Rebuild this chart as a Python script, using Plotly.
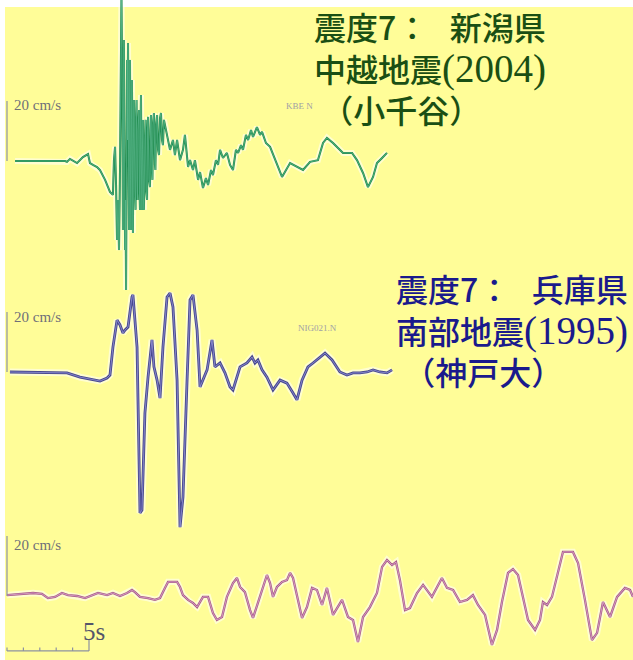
import plotly.graph_objects as go

# Velocity records: time in seconds, ground velocity in cm/s
ojiya_t = [0.49, 3.54, 3.66, 3.84, 4.27, 4.63, 4.94, 5.06, 5.24, 5.49, 5.67, 5.98, 6.28, 6.46,
           6.52, 6.59, 6.65, 6.71, 6.77, 6.83, 6.89, 6.95, 6.98, 7.04, 7.07, 7.10, 7.13, 7.16,
           7.20, 7.23, 7.26, 7.29, 7.32, 7.35, 7.38, 7.41, 7.44, 7.47, 7.50, 7.53, 7.56, 7.59,
           7.62, 7.65, 7.68, 7.71, 7.74, 7.80, 7.84, 7.87, 7.90, 7.93, 7.96, 7.99, 8.05, 8.08,
           8.11, 8.14, 8.17, 8.20, 8.23, 8.26, 8.29, 8.32, 8.35, 8.41, 8.45, 8.48, 8.54, 8.57,
           8.60, 8.66, 8.72, 8.75, 8.78, 8.84, 8.87, 8.90, 8.96, 9.02, 9.05, 9.09, 9.15, 9.21,
           9.27, 9.33, 9.39, 9.45, 9.51, 9.57, 9.63, 9.76, 9.94, 10.12, 10.24, 10.37, 10.55,
           10.73, 10.85, 11.04, 11.16, 11.34, 11.46, 11.65, 11.77, 11.95, 12.13, 12.26, 12.44,
           12.56, 12.74, 12.87, 12.99, 13.17, 13.41, 13.60, 13.78, 13.96, 14.09, 14.27, 14.39,
           14.57, 14.70, 14.88, 15.00, 15.24, 15.43, 15.55, 15.79, 16.04, 16.46, 16.77, 17.26,
           17.68, 18.05, 18.48, 18.96, 19.27, 19.51, 19.88, 20.49, 21.04, 21.34, 21.71, 22.01,
           22.32, 22.56, 22.87, 23.17]
ojiya_v = [0.0, 0.0, -0.3, 0.7, -0.7, 1.3, 2.3, -0.7, -1.3, -2.0, -3.0, -6.3, -10.3, -11.3,
           0.3, 4.7, -8.0, -26.3, -13.0, -29.7, -3.0, 33.7, 55.3, 13.7, -23.0, 3.7, 40.3, 10.3,
           -29.7, -13.0, -43.0, -6.3, 33.7, 7.0, 39.3, 3.7, -23.0, 20.3, 33.7, -6.3, -23.0, 13.7,
           27.0, -3.0, -24.0, 7.0, 20.3, -9.7, -16.3, 13.7, 20.3, -6.3, -13.0, 10.3, 17.0, -9.7,
           -16.3, 10.3, 22.0, -3.0, -16.3, 3.7, 13.7, -13.0, -16.3, 7.0, 13.7, -9.7, -13.0, 10.3,
           14.7, -6.3, -8.7, 10.3, 15.3, -3.0, -6.3, 12.0, 16.0, -1.3, -3.0, 12.0, 15.3, 3.7,
           2.0, 14.3, 16.0, 7.0, 5.3, 13.7, 12.0, 9.3, 3.7, 7.0, 2.0, 7.0, 0.3,
           3.7, 8.7, -2.0, 0.3, -3.0, 0.3, -6.3, -3.7, -9.0, -5.7, -8.0, -3.0,
           -4.7, 0.3, -1.3, 3.7, 1.0, 2.7, -1.3, -3.0, 3.7, 2.7, 5.3, 3.7,
           8.7, 7.0, 10.3, 8.0, 11.3, 8.7, 9.7, 6.0, 4.7, -0.7, -5.3, -0.7,
           -2.0, -3.0, -0.3, 0.3, 6.0, 7.7, 6.0, 2.7, 2.7, 0.3, -4.0, -8.7,
           -5.3, -0.7, 1.0, 2.7]

kobe_t = [0.18, 3.66, 4.45, 5.24, 5.67, 6.10, 6.28, 6.46, 6.71, 6.89, 7.07, 7.20, 7.38, 7.62,
          7.68, 7.93, 8.11, 8.23, 8.41, 8.60, 8.84, 8.96, 9.15, 9.33, 9.51, 9.76, 9.94, 10.12,
          10.37, 10.55, 10.73, 10.98, 11.16, 11.34, 11.59, 11.77, 11.95, 12.20, 12.50, 12.68,
          12.99, 13.29, 13.60, 13.78, 14.21, 14.63, 14.94, 15.12, 15.30, 15.55, 15.85, 16.22,
          16.65, 17.07, 17.44, 17.68, 17.99, 18.35, 18.66, 19.09, 19.39, 19.82, 20.30, 20.73,
          21.10, 21.52, 21.95, 22.32, 22.74, 23.17, 23.48]
kobe_v = [0.0, -0.3, -1.7, -2.7, -3.0, -2.0, -1.0, 8.3, 17.3, 15.7, 13.0, 14.0, 15.0, 25.0,
          25.7, 8.3, -47.0, -46.0, -13.7, -1.7, 10.7, 1.7, -2.7, -8.7, 8.3, 25.0, 26.3, 21.7,
          -2.7, -51.7, -41.7, -2.7, 24.0, 25.7, 14.0, -5.0, -2.7, 0.7, 10.7, 1.7,
          3.0, -0.3, -5.0, -6.0, 1.7, 3.0, 5.0, 3.0, 4.0, 0.7, -1.7, -6.0,
          -2.7, -3.7, -7.0, -9.3, -2.7, 1.7, 3.0, 5.0, 6.3, 4.0, 0.0, -1.0,
          -0.3, -0.3, 0.0, 0.7, 0.0, -0.3, 0.7]

third_t = [0.00, 0.79, 1.59, 2.13, 2.50, 2.93, 3.35, 3.72, 4.27, 4.76, 5.18, 5.55, 6.10, 6.46,
           6.89, 7.32, 7.62, 7.80, 8.11, 8.60, 9.02, 9.33, 9.63, 9.82, 10.37, 10.55, 10.73,
           11.04, 11.34, 11.59, 11.95, 12.26, 12.56, 12.80, 13.11, 13.41, 13.78, 14.02, 14.21,
           14.51, 14.82, 15.00, 15.30, 15.61, 15.85, 16.04, 16.22, 16.46, 16.77, 17.07, 17.26,
           17.44, 17.68, 17.99, 18.29, 18.60, 18.90, 19.21, 19.51, 19.88, 20.43, 20.79, 21.10,
           21.40, 21.71, 22.13, 22.56, 22.87, 23.17, 23.48, 23.72, 23.96, 24.27, 24.57, 25.00,
           25.37, 25.91, 26.52, 26.83, 27.20, 27.62, 28.05, 28.41, 28.72, 29.15, 29.57, 29.88,
           30.18, 30.55, 30.85, 31.16, 31.46, 31.77, 32.20, 32.50, 32.68, 32.93, 33.23, 33.60,
           33.90, 34.51, 34.82, 35.24, 35.67, 35.98, 36.34, 36.77, 37.20, 37.68, 37.99, 38.17]
third_v = [0.3, 0.7, 1.0, 0.7, -0.7, -0.3, 1.0, 0.3, 0.0, -0.7, 0.3, 1.0, 0.3, 1.0,
           0.0, 1.0, 2.0, 1.3, -0.3, -0.7, -1.3, -0.7, 2.7, 4.7, 4.7, 3.0, 0.3,
           -1.3, -2.3, -3.7, -0.3, -0.3, -5.7, -8.0, -7.0, -0.3, 4.3, 6.0, 3.0,
           1.3, -4.7, -7.3, -2.3, 3.0, 7.0, 4.3, -0.3, 3.0, 4.7, 5.3, 7.7,
           6.0, -0.3, -7.3, -3.7, 2.7, 2.0, -3.0, 2.7, -6.3, -1.3, -7.0, -8.0,
           -15.3, -7.0, -3.7, 1.0, 9.7, 12.0, 10.3, 11.3, 5.3, -4.7, -4.0, 1.0,
           3.7, -0.3, 6.0, 2.7, 2.0, -2.0, -1.3, 0.3, -3.0, -6.3, -16.3, -11.3,
           -2.0, 7.7, 9.0, 7.0, -0.3, -8.0, -11.3, -8.0, -2.0, -3.0, -0.3, 7.7,
           14.7, 14.7, 11.0, -1.3, -14.7, -12.3, -2.0, -7.0, -0.3, 2.7, 2.0, -0.3]

# Titles and scale labels
ojiya_title = ["震度7：\u00a0\u00a0\u00a0新潟県", "中越地震", "(2004)", "\u00a0（小千谷）"]
kobe_title = ["震度7：\u00a0\u00a0\u00a0兵庫県", "南部地震", "(1995)", "\u00a0（神戸大）"]
station_codes = ["KBE N", "NIG021.N", ""]
station_code_t = [16.9, 17.6, 0]
amp_label = "20 cm/s"
time_label = "5s"
amp_bar = 20     # cm/s
time_bar = 5     # s

# Page geometry
W, H = 633, 660
PX_PER_S = 16.4
PX_PER_CMS = 3.0
T0_PX = 7
BASELINES = [161, 372, 596]

BG_YELLOW = "#FFFD98"
CJK = "Noto Sans CJK JP"
SERIF = "Liberation Serif"

fig = go.Figure()

records = [
    (ojiya_t, ojiya_v, "y", "#1d8a4c", "#5fb98f", 2.0),
    (kobe_t, kobe_v, "y2", "#47478f", "#9d9de0", 2.8),
    (third_t, third_v, "y3", "#a8598a", "#e3b3d3", 2.3),
]
for t, v, ya, dark, core, w in records:
    fig.add_trace(go.Scatter(x=t, y=v, yaxis=ya, mode="lines",
                             line=dict(color="rgba(255,255,255,0.55)", width=w + 4),
                             hoverinfo="skip", showlegend=False))
    fig.add_trace(go.Scatter(x=t, y=v, yaxis=ya, mode="lines",
                             line=dict(color=dark, width=w),
                             showlegend=False))
    fig.add_trace(go.Scatter(x=t, y=v, yaxis=ya, mode="lines",
                             line=dict(color=core, width=0.7),
                             hoverinfo="skip", showlegend=False))

# Amplitude scale bars (20 cm/s) at the start of each record
BAR_GREY = "#8d92a2"
for ya in ["y", "y2", "y3"]:
    fig.add_trace(go.Scatter(x=[0, 0], y=[0, amp_bar], yaxis=ya, mode="lines",
                             line=dict(color=BAR_GREY, width=1.2),
                             hoverinfo="skip", showlegend=False))

# Time scale bar (5 s) under the third record
bar_level = -18.3
fig.add_trace(go.Scatter(x=[0, time_bar], y=[bar_level, bar_level], yaxis="y3", mode="lines",
                         line=dict(color=BAR_GREY, width=1.2),
                         hoverinfo="skip", showlegend=False))
for s in range(time_bar + 1):
    top = bar_level + (3.6 if s == time_bar else 1.1)
    fig.add_trace(go.Scatter(x=[s, s], y=[bar_level, top], yaxis="y3", mode="lines",
                             line=dict(color=BAR_GREY, width=1.2),
                             hoverinfo="skip", showlegend=False))

annotations = []
# "20 cm/s" labels and station codes
for ya, code, ct, lv in zip(["y", "y2", "y3"], station_codes, station_code_t,
                            [18.8, 18.3, 17.0]):
    annotations.append(dict(x=0.3, y=lv, xref="x", yref=ya, text=amp_label,
                            showarrow=False, xanchor="left", yanchor="middle",
                            font=dict(family=SERIF, size=15, color="#6f6f78")))
    if code:
        annotations.append(dict(x=ct, y=lv - (0.5 if ya == "y" else 3.5), xref="x", yref=ya,
                                text=code, showarrow=False, xanchor="left", yanchor="middle",
                                font=dict(family=SERIF, size=9, color="#a0a0a6")))
annotations.append(dict(x=5.3, y=-11.7, xref="x", yref="y3", text=time_label,
                        showarrow=False, xanchor="center", yanchor="middle",
                        font=dict(family=SERIF, size=25, color="#55556a")))


def title_block(lines, x_px, y_mid_px, color):
    head, name, year, place = lines
    text = "<br>".join([
        head,
        name + f"<span style='font-family:{SERIF};font-size:39px'>{year}</span>",
        place,
    ])
    annotations.append(dict(x=x_px / W, y=1 - y_mid_px / H, xref="paper", yref="paper",
                            text=text, showarrow=False, align="left",
                            xanchor="left", yanchor="middle",
                            font=dict(family=CJK, size=32, color=color, weight=500)))


title_block(ojiya_title, 312, 67, "#1a4f14")
title_block(kobe_title, 394, 329, "#1a1a8c")

yax = dict(visible=False, domain=[0, 1], fixedrange=True)
fig.update_layout(
    width=W, height=H,
    margin=dict(l=0, r=0, t=0, b=0),
    paper_bgcolor="white",
    plot_bgcolor="rgba(0,0,0,0)",
    xaxis=dict(visible=False, range=[-T0_PX / PX_PER_S, (W - T0_PX) / PX_PER_S],
               domain=[0, 1], fixedrange=True),
    yaxis=dict(yax, range=[(BASELINES[0] - H) / PX_PER_CMS, BASELINES[0] / PX_PER_CMS]),
    yaxis2=dict(yax, overlaying="y", range=[(BASELINES[1] - H) / PX_PER_CMS,
                                            BASELINES[1] / PX_PER_CMS]),
    yaxis3=dict(yax, overlaying="y", range=[(BASELINES[2] - H) / PX_PER_CMS,
                                            BASELINES[2] / PX_PER_CMS]),
    shapes=[dict(type="rect", xref="paper", yref="paper", x0=5 / W, x1=1,
                 y0=0, y1=(H - 7) / H, fillcolor=BG_YELLOW, line=dict(width=0),
                 layer="below")],
    annotations=annotations,
    showlegend=False,
)

fig.write_html("out.html")
